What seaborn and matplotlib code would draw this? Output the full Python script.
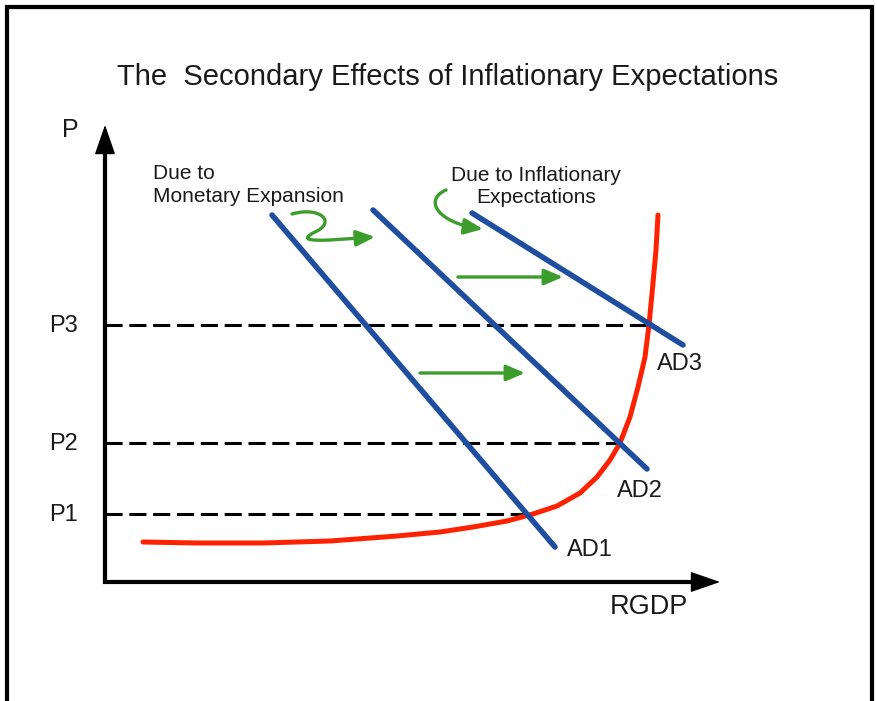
#!/usr/bin/env python3
import matplotlib
matplotlib.use("Agg")
import matplotlib.pyplot as plt
import numpy as np
import pandas as pd
import seaborn as sns
from matplotlib.patches import FancyArrowPatch
from matplotlib.path import Path

BLUE = "#1f4ea0"
RED = "#ff2200"
GREEN = "#3c9c2c"
INK = "#1a1a1a"

# price levels on the vertical axis
price_labels = ["P1", "P2", "P3"]
price_levels = [6.8, 13.9, 25.7]
price_reach = [42.5, 51.5, 54.5]  # where each dashed line meets the supply curve

# aggregate demand curves (two end points each)
ad_names = ["AD1", "AD2", "AD3"]
ad_x = [[16.7, 45.0], [26.8, 54.2], [36.7, 57.8]]
ad_y = [[36.7, 3.5], [37.2, 11.3], [36.9, 23.7]]
ad_label_pos = [(46.2, 3.2), (51.2, 9.1), (55.2, 21.8)]

# short run aggregate supply
sras_x = [3.8, 9.2, 15.8, 22.5, 29.2, 33.5, 36.8, 40.2, 42.8, 45.2, 47.5,
          49.2, 50.5, 51.5, 52.5, 53.3, 54.0, 54.4, 54.8, 55.1, 55.3]
sras_y = [4.0, 3.9, 3.9, 4.1, 4.6, 5.0, 5.5, 6.1, 6.8, 7.6, 8.9,
          10.5, 12.2, 13.9, 16.5, 19.5, 22.5, 25.7, 29.9, 33.2, 36.7]

# green shift arrows
shift_start = [(31.5, 20.9), (35.3, 30.5)]
shift_end = [(42.0, 20.9), (45.8, 30.5)]

# curly arrows near the notes
curl1 = [(18.7, 36.8), (21.5, 37.6), (23.2, 36.0), (21.0, 35.0),
         (19.6, 34.3), (20.2, 34.1), (22.5, 34.2), (27.0, 34.5)]
curl2 = [(34.1, 39.2), (31.8, 38.2), (33.3, 35.9), (37.8, 35.3)]

X_TIP = 61.5
Y_TIP = 45.7


def main() -> None:
    sns.set_theme(style="white")
    plt.rcParams["font.family"] = ["Liberation Sans", "DejaVu Sans"]

    fig = plt.figure(figsize=(8.77, 7.01), dpi=100)
    ax = fig.add_axes([0, 0, 1, 1])
    ax.set_xlim(-10.5, 77.2)
    ax.set_ylim(-11.9, 58.2)
    ax.axis("off")

    # frame
    ax.plot([-9.8, -9.8, 76.7, 76.7], [-13, 57.5, 57.5, -13], color="black",
            lw=3, solid_joinstyle="miter", clip_on=False)

    # axes with arrow heads
    ax.plot([0, 0, X_TIP - 2], [Y_TIP - 2, 0, 0], color="black", lw=3,
            solid_joinstyle="miter", solid_capstyle="butt")
    for tip, base in [((0, Y_TIP), (0, Y_TIP - 3)), ((X_TIP, 0), (X_TIP - 3, 0))]:
        ax.annotate("", xy=tip, xytext=base,
                    arrowprops=dict(arrowstyle="-|>,head_length=0.95,head_width=0.33",
                                    color="black", lw=1, mutation_scale=20,
                                    shrinkA=0, shrinkB=0))

    # dashed price lines
    for lab, lvl, reach in zip(price_labels, price_levels, price_reach):
        ax.plot([0, reach], [lvl, lvl], color="black", lw=2.2, dashes=(5.6, 2.2),
                solid_capstyle="butt")
        ax.text(-2.7, lvl - 0.1, lab, ha="right", va="center", fontsize=17, color=INK)

    # supply curve
    sras = pd.DataFrame({"x": sras_x, "y": sras_y})
    sns.lineplot(data=sras, x="x", y="y", color=RED, lw=3.6, sort=False,
                 estimator=None, solid_joinstyle="round", solid_capstyle="round",
                 ax=ax)

    # demand curves
    for name, xs, ys, pos in zip(ad_names, ad_x, ad_y, ad_label_pos):
        df = pd.DataFrame({"x": xs, "y": ys})
        sns.lineplot(data=df, x="x", y="y", color=BLUE, lw=4, sort=False,
                     estimator=None, ax=ax)
        ax.text(pos[0], pos[1], name, ha="left", va="center", fontsize=17, color=INK)

    # green shift arrows
    for s, e in zip(shift_start, shift_end):
        ax.annotate("", xy=e, xytext=s,
                    arrowprops=dict(arrowstyle="-|>,head_length=0.7,head_width=0.3",
                                    color=GREEN, lw=2.4, mutation_scale=16,
                                    shrinkA=0, shrinkB=0))

    codes1 = [Path.MOVETO, Path.CURVE4, Path.CURVE4, Path.CURVE4,
              Path.CURVE4, Path.CURVE4, Path.CURVE4, Path.LINETO]
    codes2 = [Path.MOVETO, Path.CURVE4, Path.CURVE4, Path.CURVE4]
    for pts, codes in [(curl1, codes1), (curl2, codes2)]:
        arrow = FancyArrowPatch(path=Path(pts, codes),
                                arrowstyle="-|>,head_length=0.7,head_width=0.3",
                                color=GREEN, lw=2.4, mutation_scale=16)
        ax.add_patch(arrow)

    # text
    ax.text(34.3, 50.5, "The  Secondary Effects of Inflationary Expectations",
            ha="center", va="center", fontsize=21, color=INK)
    ax.text(-4.3, 45.2, "P", ha="left", va="center", fontsize=18, color=INK)
    ax.text(50.5, -2.5, "RGDP", ha="left", va="center", fontsize=19.5, color=INK)
    ax.text(4.8, 39.7, "Due to\nMonetary Expansion", ha="left", va="center",
            fontsize=15, color=INK, linespacing=1.25)
    ax.text(43.1, 39.55, "Due to Inflationary\nExpectations", ha="center",
            va="center", multialignment="center", fontsize=15, color=INK,
            linespacing=1.25)

    fig.savefig("out.png", dpi=100, facecolor="white")
    plt.close(fig)


if __name__ == "__main__":
    main()
